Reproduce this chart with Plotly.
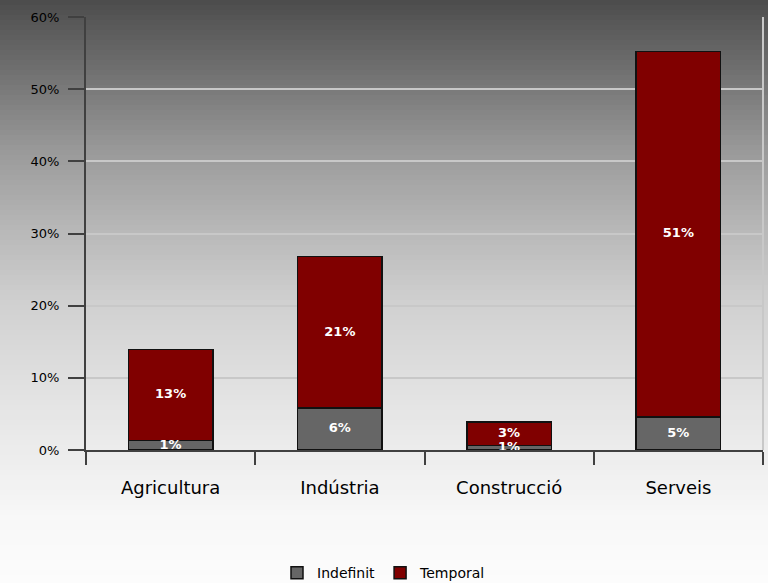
import plotly.graph_objects as go

categories = ["Agricultura", "Indústria", "Construcció", "Serveis"]
indefinit = [1.3, 5.8, 0.6, 4.6]
temporal = [12.6, 21.0, 3.3, 50.6]
y_ticks = [0, 10, 20, 30, 40, 50, 60]
y_tick_labels = ["0%", "10%", "20%", "30%", "40%", "50%", "60%"]

W, H = 768, 583
PT, PB = 17, 450  # plot area top/bottom pixels
FONT = "DejaVu Sans"

fig = go.Figure()
fig.add_trace(go.Bar(
    x=categories, y=indefinit, name="Indefinit",
    marker=dict(color="#666666", line=dict(color="#111111", width=1.5)),
))
fig.add_trace(go.Bar(
    x=categories, y=temporal, name="Temporal",
    marker=dict(color="#800000", line=dict(color="#111111", width=1.5)),
))

# value labels drawn above all bars
label_font = dict(color="white", size=13, family=FONT, weight="bold")
fig.add_trace(go.Scatter(
    x=categories, y=[v / 2 for v in indefinit], mode="text",
    text=[f"{round(v + 1e-9):.0f}%" for v in indefinit], textposition="middle center",
    textfont=label_font, showlegend=False, hoverinfo="skip",
))
fig.add_trace(go.Scatter(
    x=categories, y=[a + b / 2 for a, b in zip(indefinit, temporal)], mode="text",
    text=[f"{round(v + 1e-9):.0f}%" for v in temporal], textposition="middle center",
    textfont=label_font, showlegend=False, hoverinfo="skip",
))

# background gradient (styling only)
stops = [(0, 0x4c), (90, 0x7a), (150, 0x99), (230, 0xb8), (300, 0xcf),
         (380, 0xe0), (450, 0xec), (520, 0xf8), (583, 0xfc)]
def shade(py):
    for (a, ca), (b, cb) in zip(stops, stops[1:]):
        if a <= py <= b:
            return ca + (cb - ca) * (py - a) / (b - a)
    return stops[-1][1]

def to_paper(py):
    return (PB - py) / (PB - PT)

shapes = []
step = 5
for py in range(0, H, step):
    c = int(round(shade(py + step / 2)))
    col = f"rgb({c},{c},{c})"
    shapes.append(dict(type="rect", xref="paper", yref="paper", layer="below",
                       x0=-0.2, x1=1.2, y0=to_paper(py + step + 0.5), y1=to_paper(py),
                       fillcolor=col, line=dict(width=0)))
shapes.append(dict(type="line", xref="paper", yref="paper", layer="below",
                   x0=1, x1=1, y0=0, y1=1, line=dict(color="#c8c8c8", width=2)))

fig.update_layout(
    barmode="stack", bargap=0.5,
    width=W, height=H,
    margin=dict(l=86, r=5, t=PT, b=H - PB, autoexpand=False),
    paper_bgcolor="white", plot_bgcolor="rgba(0,0,0,0)",
    shapes=shapes,
    font=dict(family=FONT, color="black"),
    showlegend=True,
    legend=dict(orientation="h", xref="container", yref="container",
                x=0.5, xanchor="center", y=0.017, yanchor="middle",
                font=dict(size=14), bgcolor="rgba(0,0,0,0)", traceorder="normal",
                itemwidth=30),
    xaxis=dict(showgrid=False, showline=True, linecolor="#404040", linewidth=2,
               ticks="outside", tickson="boundaries", ticklen=13, tickwidth=2,
               tickcolor="#404040", tickfont=dict(size=18, color="black"),
               ticklabelstandoff=20),
    yaxis=dict(range=[0, 60], tickvals=y_ticks, ticktext=y_tick_labels,
               showgrid=True, gridcolor="#c8c8c8", gridwidth=2,
               showline=True, linecolor="#404040", linewidth=2,
               ticks="outside", ticklen=16, tickwidth=2, tickcolor="#404040",
               tickfont=dict(size=13, color="black"), zeroline=False,
               ticklabelstandoff=6),
)

fig.write_html("out.html", post_script="document.body.style.margin='0';",
               config={"displayModeBar": False})
